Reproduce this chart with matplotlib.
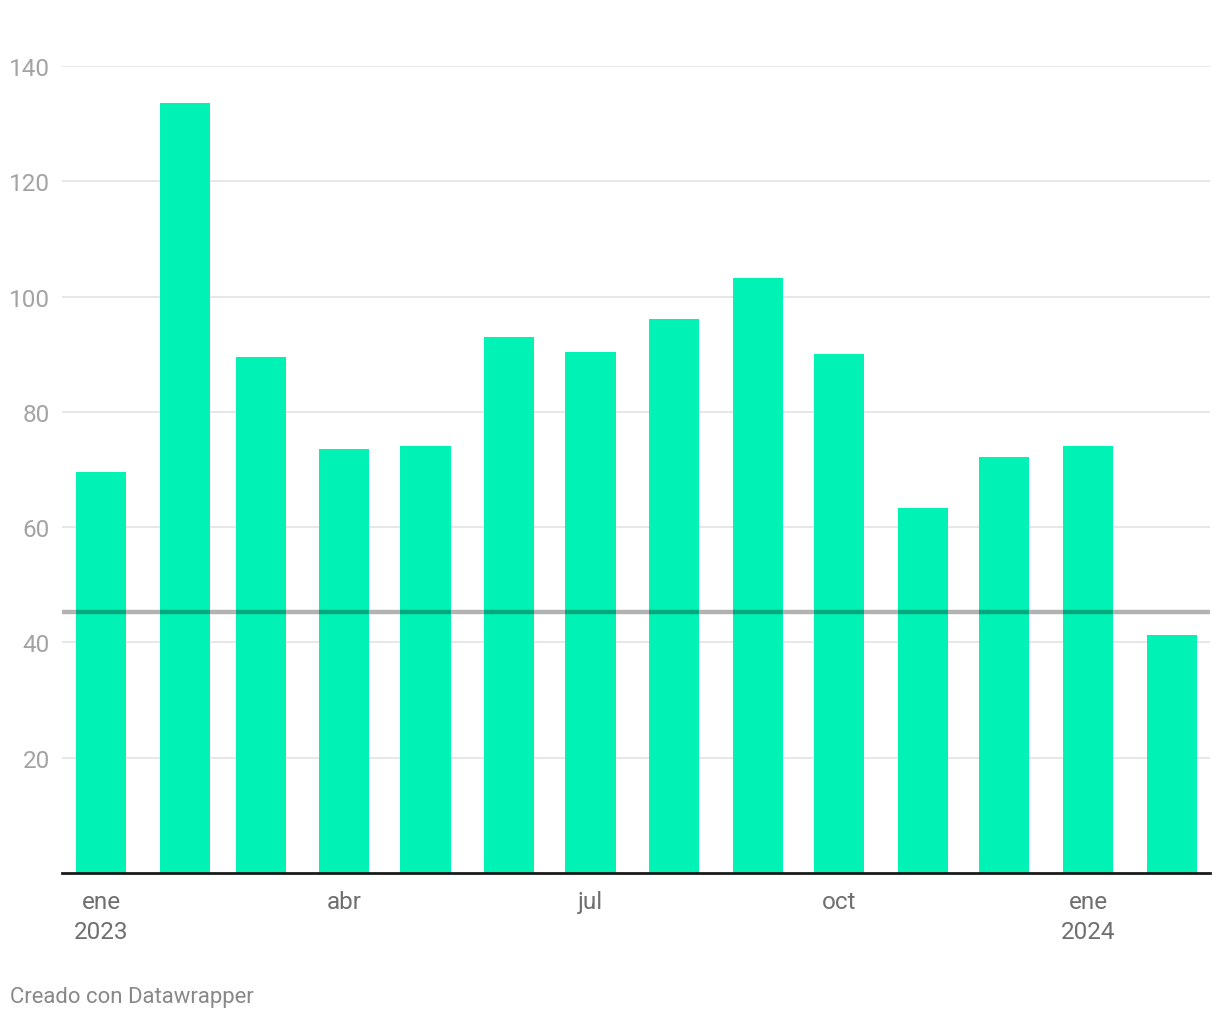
import matplotlib.pyplot as plt
import matplotlib.dates as mdates
from datetime import datetime, timedelta

plt.rcParams['font.family'] = ['Roboto', 'DejaVu Sans']

# monthly values, ene 2023 - feb 2024
months = ["2023-01", "2023-02", "2023-03", "2023-04", "2023-05", "2023-06", "2023-07",
          "2023-08", "2023-09", "2023-10", "2023-11", "2023-12", "2024-01", "2024-02"]
values = [69.5, 133.5, 89.5, 73.6, 74.0, 93.0, 90.4, 96.1, 103.2, 90.0, 63.4, 72.1, 74.0, 41.3]
ref_value = 45.2

tick_months = ["2023-01", "2023-04", "2023-07", "2023-10", "2024-01"]
tick_labels = ["ene\n2023", "abr", "jul", "oct", "ene\n2024"]
y_ticks = [20, 40, 60, 80, 100, 120, 140]

dates = [datetime.strptime(m, "%Y-%m") for m in months]
tick_dates = [datetime.strptime(m, "%Y-%m") for m in tick_months]

fig = plt.figure(figsize=(12.2, 10.2), dpi=100)
ax = fig.add_axes([62 / 1220, 1 - 874 / 1020, (1210 - 62) / 1220, (874 - 67) / 1020])

ax.bar(dates, values, width=18.5, color="#00f3b4", zorder=2)
ax.axhline(ref_value, color="black", alpha=0.3, lw=3.2, zorder=3)

ax.set_xlim(dates[0] - timedelta(days=14.4), dates[-1] + timedelta(days=14.05))
ax.set_ylim(0, 140)

ax.set_yticks(y_ticks)
ax.yaxis.grid(True, color="#e5e5e5", lw=1.3, zorder=0)
ax.tick_params(axis="y", length=0, pad=8.6, labelsize=17.5, labelcolor="#a3a3a3")

ax.set_xticks(tick_dates)
ax.set_xticklabels(tick_labels, linespacing=1.35)
ax.tick_params(axis="x", length=0, pad=12.5, labelsize=17.5, labelcolor="#6f6f6f")

for s in ["top", "right", "left"]:
    ax.spines[s].set_visible(False)
ax.spines["bottom"].set_color("#1a1a1a")
ax.spines["bottom"].set_linewidth(2)
ax.spines["bottom"].set_zorder(4)

fig.text(10 / 1220, 1 - 998 / 1020, "Creado con Datawrapper", fontsize=15.9,
         color="#888888", va="center", ha="left")

fig.savefig("out.png", dpi=100, facecolor="white")
